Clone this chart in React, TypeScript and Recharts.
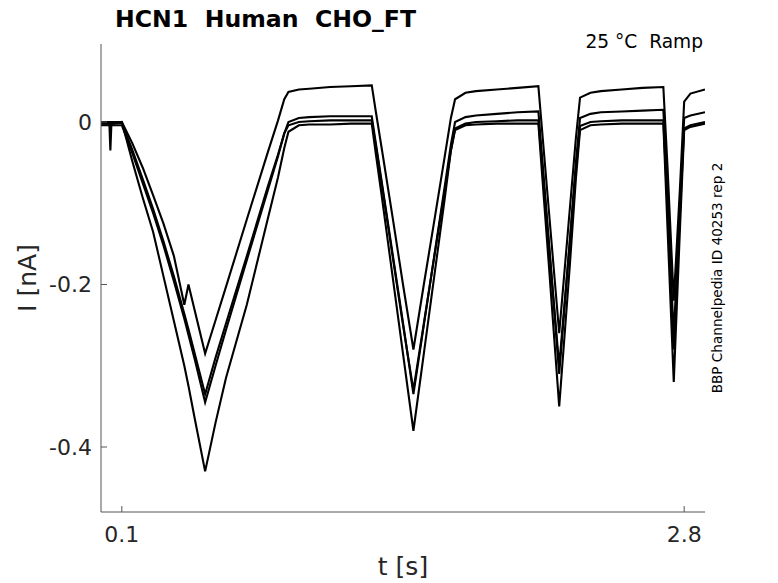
import { LineChart, Line, XAxis, YAxis } from 'recharts'

// sample times (s) shared by all sweeps
const times = [
  0, 0.04, 0.045, 0.05, 0.1,
  0.15, 0.2, 0.25, 0.3, 0.35,
  0.4, 0.42, 0.45, 0.5, 0.55,
  0.6, 0.7, 0.8, 0.85, 0.88,
  0.9, 0.95, 1.0, 1.1, 1.2,
  1.3, 1.32, 1.35, 1.4, 1.45,
  1.5, 1.55, 1.6, 1.65, 1.68,
  1.7, 1.75, 1.8, 1.9, 2.0,
  2.1, 2.12, 2.15, 2.2, 2.25,
  2.28, 2.3, 2.35, 2.4, 2.5,
  2.6, 2.7, 2.72, 2.75, 2.78,
  2.8, 2.83, 2.9,
]

// current (nA) per sweep
const sweep1 = [
  -0.002, -0.002, -0.002, -0.002, 0.0,
  -0.026, -0.056, -0.09, -0.125, -0.165,
  -0.225, -0.2, -0.232, -0.285, -0.244,
  -0.203, -0.12, -0.038, 0.002, 0.028,
  0.037, 0.04, 0.041, 0.043, 0.044,
  0.045, 0.012, -0.036, -0.117, -0.2,
  -0.28, -0.2, -0.122, -0.043, 0.005,
  0.028, 0.036, 0.038, 0.04, 0.042,
  0.044, -0.017, -0.108, -0.26, -0.11,
  -0.02, 0.03, 0.036, 0.038, 0.04,
  0.042, 0.043, -0.055, -0.22, -0.08,
  0.025, 0.035, 0.04,
]

const sweep2 = [
  -0.004, -0.004, -0.004, -0.004, -0.004,
  -0.038, -0.075, -0.112, -0.152, -0.196,
  -0.242, -0.262, -0.292, -0.345, -0.3,
  -0.256, -0.17, -0.085, -0.042, -0.014,
  0.0, 0.005, 0.006, 0.007, 0.007,
  0.007, -0.027, -0.077, -0.162, -0.247,
  -0.335, -0.25, -0.165, -0.08, -0.028,
  0.0, 0.006, 0.008, 0.01, 0.012,
  0.013, -0.05, -0.146, -0.31, -0.15,
  -0.05, 0.005, 0.01, 0.012, 0.013,
  0.014, 0.015, -0.09, -0.265, -0.1,
  0.005, 0.008, 0.012,
]

const sweep3 = [
  -0.001, -0.001, -0.035, -0.002, -0.001,
  -0.034, -0.07, -0.107, -0.147, -0.19,
  -0.236, -0.255, -0.285, -0.335, -0.29,
  -0.248, -0.165, -0.08, -0.04, -0.014,
  -0.004, 0.0, 0.001, 0.002, 0.002,
  0.002, -0.03, -0.08, -0.165, -0.25,
  -0.33, -0.248, -0.166, -0.085, -0.035,
  -0.008, -0.002, 0.0, 0.001, 0.002,
  0.002, -0.058, -0.15, -0.3, -0.15,
  -0.06, -0.005, 0.0, 0.001, 0.002,
  0.002, 0.002, -0.105, -0.28, -0.11,
  -0.008, -0.004, 0.0,
]

const sweep4 = [
  0.0, 0.0, 0.0, 0.0, 0.0,
  -0.048, -0.093, -0.135, -0.19, -0.245,
  -0.3, -0.325, -0.365, -0.43, -0.37,
  -0.315, -0.225, -0.12, -0.068, -0.032,
  -0.012, -0.004, -0.003, -0.003, -0.002,
  -0.002, -0.04, -0.095, -0.19, -0.285,
  -0.38, -0.285, -0.19, -0.095, -0.035,
  -0.01, -0.004, -0.003, -0.002, -0.002,
  -0.002, -0.072, -0.175, -0.35, -0.18,
  -0.07, -0.01, -0.004, -0.003, -0.002,
  -0.002, -0.002, -0.13, -0.32, -0.13,
  -0.01, -0.006, -0.002,
]

const sweeps = [sweep1, sweep2, sweep3, sweep4]
const xTicks = [0.1, 2.8]
const yTicks = [-0.4, -0.2, 0]

const data = times.map((t, i) => {
  const row: Record<string, number> = { t }
  sweeps.forEach((s, k) => {
    row[`s${k}`] = s[i]
  })
  return row
})

const font = 'DejaVu Sans, sans-serif'
const ink = '#262626'

export default function App() {
  return (
    <div style={{ position: 'absolute', left: 0, top: 0, width: 778, height: 583, background: '#fff' }}>
      <LineChart
        width={778}
        height={583}
        data={data}
        margin={{ top: 44, right: 73, bottom: 41, left: 41 }}
      >
        <XAxis
          dataKey="t"
          type="number"
          domain={[0, 2.9]}
          ticks={xTicks}
          allowDataOverflow
          height={30}
          tickSize={-6}
          tickMargin={20}
          axisLine={{ stroke: '#555', strokeWidth: 1 }}
          tickLine={{ stroke: '#555' }}
          tick={{ fill: ink, fontSize: 22, fontFamily: font }}
        />
        <YAxis
          type="number"
          domain={[-0.48, 0.096]}
          ticks={yTicks}
          allowDataOverflow
          width={60}
          tickSize={-6}
          tickMargin={15}
          axisLine={{ stroke: '#555', strokeWidth: 1 }}
          tickLine={{ stroke: '#555' }}
          tick={{ fill: ink, fontSize: 22, fontFamily: font }}
        />
        {sweeps.map((_, k) => (
          <Line
            key={k}
            dataKey={`s${k}`}
            type="linear"
            stroke="#000"
            strokeWidth={2.1}
            dot={false}
            activeDot={false}
            isAnimationActive={false}
          />
        ))}
      </LineChart>
      <svg
        width={778}
        height={583}
        style={{ position: 'absolute', left: 0, top: 0, pointerEvents: 'none' }}
      >
        <text x={115} y={27} fontFamily={font} fontSize={23.6} fontWeight="bold" fill="#000" style={{ whiteSpace: 'pre' }}>
          HCN1  Human  CHO_FT
        </text>
        <text x={703} y={48} textAnchor="end" fontFamily={font} fontSize={18.6} fill="#000" style={{ whiteSpace: 'pre' }}>
          25 °C  Ramp
        </text>
        <text x={403} y={575} textAnchor="middle" fontFamily={font} fontSize={25} fill={ink}>
          t [s]
        </text>
        <text x={36} y={278} textAnchor="middle" fontFamily={font} fontSize={25} fill={ink} transform="rotate(-90 36 278)">
          I [nA]
        </text>
        <text x={722} y={278} textAnchor="middle" fontFamily={font} fontSize={13.6} fill="#000" transform="rotate(-90 722 278)">
          BBP Channelpedia ID 40253 rep 2
        </text>
      </svg>
    </div>
  )
}
